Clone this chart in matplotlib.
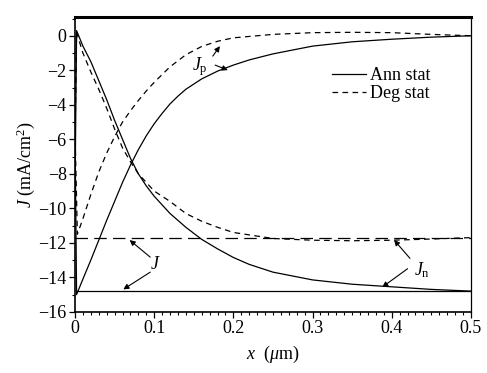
import matplotlib
matplotlib.use("Agg")
import matplotlib.pyplot as plt
from matplotlib.ticker import MultipleLocator

plt.rcParams["font.family"] = ["Liberation Serif", "DejaVu Serif"]
plt.rcParams["mathtext.fontset"] = "custom"
plt.rcParams["mathtext.rm"] = "Liberation Serif"
plt.rcParams["mathtext.it"] = "Liberation Serif:italic"

# Ann stat (solid)
x_ann_p = [0, 0.002, 0.01, 0.02, 0.03, 0.04, 0.05, 0.06, 0.07, 0.08, 0.09, 0.1, 0.11,
           0.12, 0.13, 0.14, 0.16, 0.18, 0.2, 0.22, 0.25, 0.3, 0.35, 0.4, 0.45, 0.5]
j_ann_p = [-5.5, -15.0, -14.1, -13.0, -11.85, -10.7, -9.6, -8.5, -7.5, -6.6, -5.8, -5.1, -4.5,
           -3.95, -3.5, -3.1, -2.5, -2.05, -1.7, -1.4, -1.05, -0.6, -0.35, -0.2, -0.08, 0.0]
x_ann_n = [0, 0.002, 0.01, 0.02, 0.03, 0.04, 0.05, 0.06, 0.07, 0.08, 0.09, 0.1,
           0.12, 0.14, 0.16, 0.18, 0.2, 0.22, 0.25, 0.3, 0.35, 0.4, 0.45, 0.5]
j_ann_n = [-9.3, 0.3, -0.6, -1.5, -2.6, -3.7, -4.9, -6.0, -7.1, -8.0, -8.7, -9.3,
           -10.3, -11.1, -11.8, -12.35, -12.85, -13.25, -13.7, -14.15, -14.4, -14.55, -14.7, -14.8]
x_ann_j = [0.002, 0.5]
j_ann_j = [-14.8, -14.8]

# Deg stat (dashed)
x_deg_p = [0, 0.003, 0.01, 0.02, 0.03, 0.04, 0.05, 0.06, 0.07, 0.08, 0.09, 0.1,
           0.12, 0.14, 0.16, 0.18, 0.2, 0.25, 0.3, 0.35, 0.4, 0.45, 0.5]
j_deg_p = [-5.5, -11.5, -10.6, -9.2, -7.9, -6.8, -5.85, -5.0, -4.35, -3.75, -3.2, -2.7,
           -1.8, -1.1, -0.62, -0.32, -0.12, 0.08, 0.18, 0.2, 0.18, 0.08, 0.0]
x_deg_n = [0, 0.002, 0.01, 0.02, 0.03, 0.04, 0.05, 0.06, 0.07, 0.08, 0.09, 0.1,
           0.12, 0.14, 0.16, 0.18, 0.2, 0.25, 0.3, 0.35, 0.4, 0.45, 0.5]
j_deg_n = [-6.2, 0.2, -1.0, -2.1, -3.1, -4.2, -5.4, -6.5, -7.3, -8.0, -8.5, -9.0,
           -9.6, -10.3, -10.75, -11.1, -11.4, -11.75, -11.85, -11.88, -11.85, -11.78, -11.7]
x_deg_j = [0.0, 0.5]
j_deg_j = [-11.7, -11.7]

fig = plt.figure(figsize=(4.87, 3.73), dpi=100)
ax = fig.add_axes([0.154, 0.164, 0.813, 0.791])

lw = 0.9
short_dash = (0, (4.5, 3.5))
long_dash = (0, (10, 5))

ax.plot(x_ann_p, j_ann_p, color="k", lw=lw, label="Ann stat")
ax.plot(x_ann_n, j_ann_n, color="k", lw=lw)
ax.plot(x_ann_j, j_ann_j, color="k", lw=lw)
ax.plot(x_deg_p, j_deg_p, color="k", lw=lw, linestyle=short_dash, label="Deg stat")
ax.plot(x_deg_n, j_deg_n, color="k", lw=lw, linestyle=short_dash)
ax.plot(x_deg_j, j_deg_j, color="k", lw=lw, linestyle=long_dash)

arrow = dict(arrowstyle="-|>", color="k", lw=0.8, mutation_scale=8, shrinkA=0, shrinkB=0)
fs = 13

# J_p
ax.text(0.158, -1.8, r"$J_{\rm p}$", fontsize=fs, ha="center", va="center")
ax.annotate("", xy=(0.183, -0.6), xytext=(0.174, -1.18), arrowprops=arrow)
ax.annotate("", xy=(0.193, -1.99), xytext=(0.177, -1.7), arrowprops=arrow)

# J
ax.text(0.101, -13.25, r"$J$", fontsize=fs, ha="center", va="center")
ax.annotate("", xy=(0.069, -11.84), xytext=(0.095, -12.83), arrowprops=arrow)
ax.annotate("", xy=(0.061, -14.7), xytext=(0.095, -13.7), arrowprops=arrow)

# J_n
ax.text(0.438, -13.6, r"$J_{\rm n}$", fontsize=fs, ha="center", va="center")
ax.annotate("", xy=(0.403, -11.84), xytext=(0.423, -12.9), arrowprops=arrow)
ax.annotate("", xy=(0.388, -14.57), xytext=(0.420, -13.5), arrowprops=arrow)

ax.set_xlim(0, 0.5)
ax.set_ylim(-16, 1.1)
ax.xaxis.set_minor_locator(MultipleLocator(0.01))
ax.yaxis.set_major_locator(MultipleLocator(2))
ax.yaxis.set_minor_locator(MultipleLocator(1))
ax.set_xticks([0, 0.1, 0.2, 0.3, 0.4, 0.5])
ax.set_xticklabels(["0", "0.1", "0.2", "0.3", "0.4", "0.5"])
ax.tick_params(which="major", direction="out", length=4, width=0.9, labelsize=fs, pad=2)
ax.tick_params(which="minor", direction="out", length=2.5, width=0.8)

ax.spines["top"].set_linewidth(2.2)
ax.spines["left"].set_linewidth(1.2)
ax.spines["bottom"].set_linewidth(1.2)
ax.spines["right"].set_linewidth(0.9)

ax.set_xlabel(r"$x$  ($\mu$m)", fontsize=fs, labelpad=5)
ax.set_ylabel(r"$J$ (mA/cm$^2$)", fontsize=fs, labelpad=1)

ax.legend(loc="upper left", bbox_to_anchor=(0.649, 0.83), frameon=False, fontsize=fs,
          handlelength=1.9, handletextpad=0.2, borderpad=0, borderaxespad=0,
          labelspacing=0.05)

fig.savefig("out.png", dpi=100)
